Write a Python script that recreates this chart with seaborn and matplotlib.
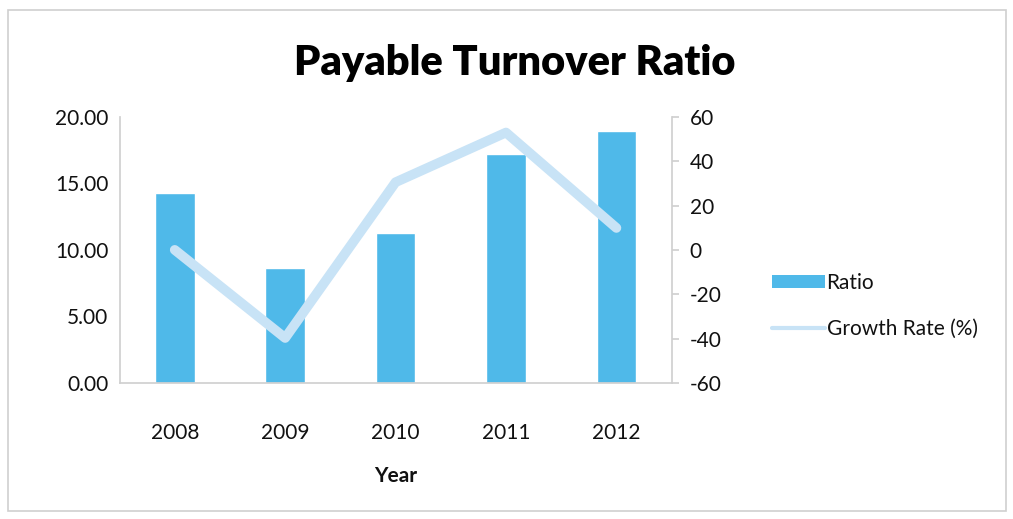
import matplotlib
matplotlib.use("Agg")
import matplotlib.pyplot as plt
from matplotlib.patches import Patch, Rectangle
from matplotlib.lines import Line2D
import seaborn as sns

years = ["2008", "2009", "2010", "2011", "2012"]
ratio = [14.30, 8.62, 11.25, 17.20, 18.90]
growth = [0.0, -39.7, 30.5, 52.9, 9.9]

bar_color = "#4fb9e9"
line_color = "#c8e3f6"
axis_color = "#d0d0d0"
text_color = "#111111"

sns.set_theme(style="white")
plt.rcParams["font.family"] = ["Lato", "DejaVu Sans"]
plt.rcParams["text.color"] = text_color
plt.rcParams["xtick.color"] = text_color
plt.rcParams["ytick.color"] = text_color
plt.rcParams["axes.labelcolor"] = text_color

fig = plt.figure(figsize=(10.13, 5.19), dpi=100)
ax = fig.add_axes([0.118, 0.262, 0.545, 0.513])

sns.barplot(x=years, y=ratio, color=bar_color, width=0.36, saturation=1, ax=ax)
ax.set_xlim(-0.5, 4.5)
ax.set_ylim(0, 20)
ax.set_yticks([0, 5, 10, 15, 20])
ax.set_yticklabels([f"{v:.2f}" for v in [0, 5, 10, 15, 20]], fontsize=15)
ax.set_xticks(range(len(years)))
ax.set_xticklabels(years, fontsize=15)
ax.tick_params(axis="x", length=0, pad=29, labelcolor=text_color)
ax.tick_params(axis="y", length=0, pad=8, labelcolor=text_color)
ax.set_xlabel("Year", fontsize=15, fontweight="bold", labelpad=16)
ax.set_ylabel("")

# boundary ticks on the category axis
ax.set_xticks([i - 0.5 for i in range(len(years) + 1)], minor=True)
ax.tick_params(axis="x", which="minor", length=6, color=axis_color, width=1, direction="out")
for side in ["top", "right"]:
    ax.spines[side].set_visible(False)
ax.spines["bottom"].set_color(axis_color)
ax.spines["left"].set_color(axis_color)
ax.set_yticks([0, 5, 10, 15, 20], minor=True)
ax.tick_params(axis="y", which="minor", length=5, color=axis_color, direction="out")

ax2 = ax.twinx()
sns.pointplot(x=years, y=growth, color=line_color, markers="", linewidth=7, ax=ax2)
ax2.set_xlim(-0.5, 4.5)
ax2.set_ylim(-60, 60)
ax2.set_yticks(range(-60, 61, 20))
ax2.set_yticklabels([str(v) for v in range(-60, 61, 20)], fontsize=15)
ax2.tick_params(axis="y", length=5, color=axis_color, pad=8, labelcolor=text_color)
for side in ["top", "left", "bottom"]:
    ax2.spines[side].set_visible(False)
ax2.spines["right"].set_color(axis_color)
ax2.set_ylabel("")
for ln in ax2.lines:
    ln.set_solid_capstyle("round")
    ln.set_solid_joinstyle("round")

fig.suptitle("Payable Turnover Ratio", fontsize=30, fontweight="heavy", x=0.508, y=0.915,
             color="#000000")

handles = [Patch(facecolor=bar_color, edgecolor="none"),
           Line2D([0], [0], color=line_color, linewidth=3)]
fig.legend(handles, ["Ratio", "Growth Rate (%)"], loc="center left",
           bbox_to_anchor=(0.744, 0.41), frameon=False, fontsize=15,
           handlelength=2.5, handleheight=0.6, handletextpad=0.1, labelspacing=1.25)

fig.patches.append(Rectangle((0.008, 0.015), 0.985, 0.965, transform=fig.transFigure,
                             fill=False, edgecolor="#cfcfcf", linewidth=1.2))

fig.savefig("out.png", dpi=100)
